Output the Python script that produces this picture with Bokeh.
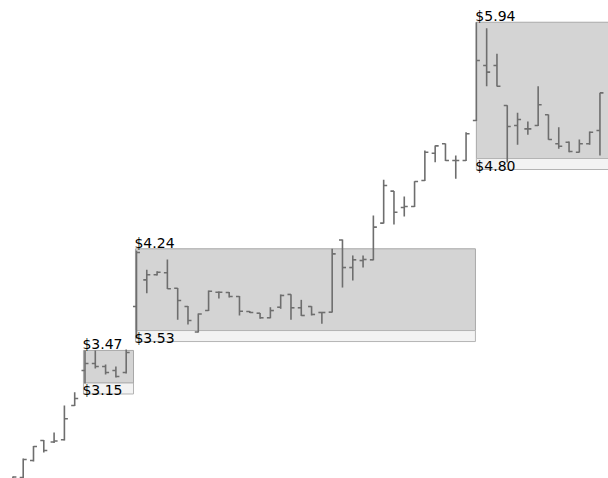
from bokeh.plotting import figure
from bokeh.models import ColumnDataSource, Range1d
from bokeh.core.properties import value
from bokeh.embed import file_html
from bokeh.resources import INLINE

# ---- data ----
bar_index = list(range(58))
open_ = [2.182, 2.251, 2.399, 2.573, 2.560, 2.579, 2.877,
         3.182, 3.243, 3.216, 3.182, 3.164,
         3.738, 3.970, 4.014, 4.031, 3.897, 3.738, 3.516, 3.703, 3.862, 3.860,
         3.825, 3.695, 3.680, 3.640, 3.732, 3.843, 3.727, 3.738, 3.686, 3.689,
         4.316, 4.077, 4.138, 4.144, 4.463, 4.741, 4.599, 4.608, 4.834, 5.071,
         5.153, 5.008, 5.008,
         5.356, 5.834, 5.834, 5.486, 5.312, 5.283, 5.312, 5.405, 5.153, 5.167,
         5.080, 5.153, 5.269]
high = [2.260, 2.416, 2.525, 2.577, 2.643, 2.877, 2.993,
        3.356, 3.356, 3.234, 3.216, 3.364,
        4.225, 4.057, 4.045, 4.147, 3.899, 3.742, 3.677, 3.877, 3.869, 3.864,
        3.829, 3.699, 3.682, 3.732, 3.843, 3.845, 3.796, 3.741, 3.689, 4.240,
        4.321, 4.182, 4.182, 4.529, 4.840, 4.743, 4.695, 4.828, 5.095, 5.138,
        5.155, 5.051, 5.254,
        6.210, 6.158, 5.936, 5.489, 5.423, 5.347, 5.654, 5.408, 5.297, 5.173,
        5.190, 5.260, 5.596]
low = [2.138, 2.225, 2.390, 2.469, 2.551, 2.573, 2.873,
       3.069, 3.199, 3.147, 3.121, 3.156,
       3.460, 3.854, 4.008, 3.890, 3.622, 3.582, 3.512, 3.699, 3.808, 3.816,
       3.660, 3.682, 3.631, 3.636, 3.718, 3.622, 3.656, 3.660, 3.588, 3.686,
       3.903, 3.964, 4.077, 4.140, 4.460, 4.451, 4.521, 4.603, 4.829, 4.993,
       5.003, 4.849, 5.003,
       5.351, 5.654, 5.651, 4.990, 5.144, 5.231, 5.308, 5.188, 5.109, 5.080,
       5.077, 5.144, 5.051]
close = [2.256, 2.408, 2.521, 2.486, 2.569, 2.762, 2.938,
         3.243, 3.216, 3.164, 3.129, 3.338,
         4.208, 4.014, 4.036, 3.892, 3.790, 3.616, 3.673, 3.871, 3.862, 3.825,
         3.697, 3.686, 3.640, 3.703, 3.834, 3.727, 3.660, 3.669, 3.686, 4.196,
         4.077, 4.144, 4.147, 4.428, 4.790, 4.558, 4.608, 4.825, 5.080, 5.135,
         5.008, 5.008, 5.240,
         5.877, 5.776, 5.654, 5.303, 5.364, 5.283, 5.492, 5.190, 5.132, 5.086,
         5.153, 5.254, 5.596]

# consolidation boxes
box_start = [6.85, 11.9, 45.0]
box_end = [11.71, 44.91, 62.0]
box_top = [3.356, 4.240, 6.210]
box_bottom = [3.073, 3.529, 5.025]
top_labels = ["$3.47", "$4.24", "$5.94"]
bottom_labels = ["$3.15", "$3.53", "$4.80"]

# ---- styling constants ----
PX_PER_UNIT = 115.0
TICK = 0.34
STRIP_H = 11.0 / PX_PER_UNIT

p = figure(width=608, height=478, output_backend="svg", toolbar_location=None,
           x_axis_location=None, y_axis_location=None, min_border=0,
           x_range=Range1d(-1.204, 57.83), y_range=Range1d(2.2425, 6.399),
           background_fill_color="white", border_fill_color="white")
p.outline_line_color = None
p.grid.visible = False

boxes = ColumnDataSource(dict(left=box_start, right=box_end, top=box_top,
                              bottom=box_bottom,
                              strip_bottom=[b - STRIP_H for b in box_bottom],
                              tl=top_labels, bl=bottom_labels))

p.quad(left="left", right="right", top="top", bottom="bottom", source=boxes,
       fill_color="#d4d4d4", line_color="#a8a8a8", line_width=1)
p.quad(left="left", right="right", top="bottom", bottom="strip_bottom", source=boxes,
       fill_color="#f3f3f3", line_color="#b4b4b4", line_width=1)

bars = ColumnDataSource(dict(x=bar_index, o=open_, h=high, l=low, c=close,
                             xl=[i - TICK for i in bar_index],
                             xr=[i + TICK for i in bar_index]))
BAR_COLOR = "#6e6e6e"
p.segment(x0="x", y0="l", x1="x", y1="h", source=bars, line_color=BAR_COLOR, line_width=1.6)
p.segment(x0="xl", y0="o", x1="x", y1="o", source=bars, line_color=BAR_COLOR, line_width=1.6)
p.segment(x0="x", y0="c", x1="xr", y1="c", source=bars, line_color=BAR_COLOR, line_width=1.6)

p.text(x="left", y="top", text="tl", source=boxes, text_font=value("DejaVu Sans"),
       text_font_size="14px", text_color="black", text_align="left",
       text_baseline="bottom", x_offset=-1, y_offset=2)
p.text(x="left", y="bottom", text="bl", source=boxes, text_font=value("DejaVu Sans"),
       text_font_size="14px", text_color="black", text_align="left",
       text_baseline="top", x_offset=-1, y_offset=-1)

open("out.html", "w").write(file_html(p, INLINE))
